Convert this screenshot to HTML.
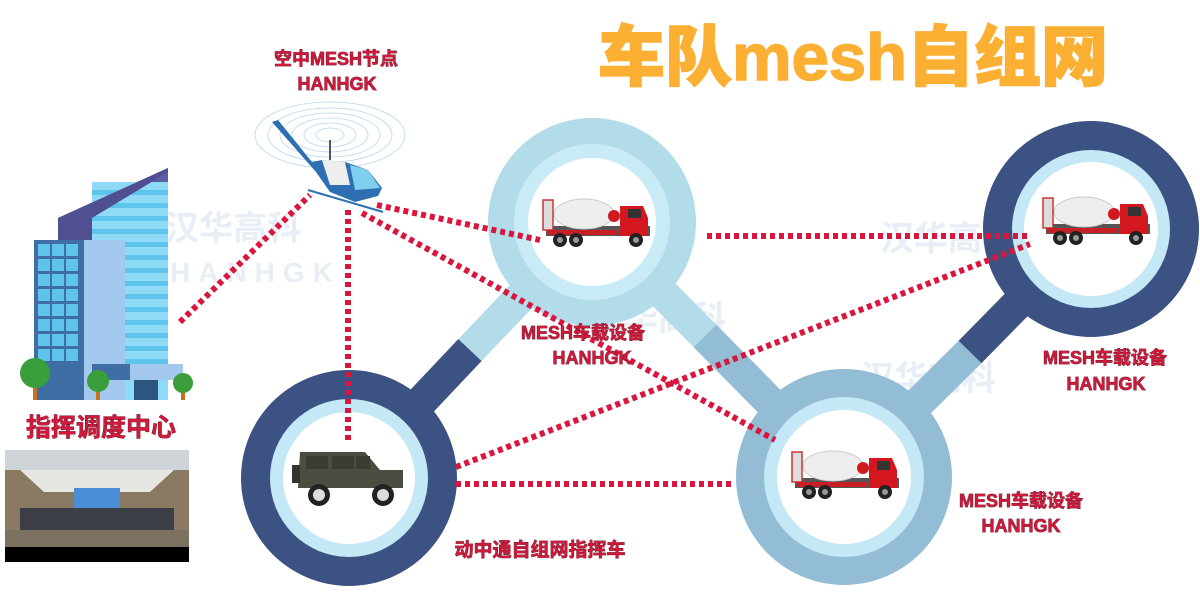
<!DOCTYPE html>
<html><head><meta charset="utf-8"><style>
html,body{margin:0;padding:0;background:#fff;width:1200px;height:600px;overflow:hidden}
svg{display:block}
.lb{font-family:"Liberation Sans","Noto Sans CJK SC",sans-serif;font-weight:bold;fill:#d01a3c;paint-order:stroke;stroke:#5a1020;stroke-width:0.7px}
.wm{font-family:"Liberation Sans","Noto Sans CJK SC",sans-serif;font-weight:bold;fill:#e8eef5}
</style></head><body>
<svg width="1200" height="600" viewBox="0 0 1200 600" xmlns="http://www.w3.org/2000/svg">
<defs>
<g id="truck">
  <rect x="-52" y="-2" width="104" height="10" fill="#555"/>
  <ellipse cx="-14" cy="-14" rx="30" ry="15" fill="#eeeeee" stroke="#ccc"/>
  <rect x="-55" y="-28" width="10" height="30" fill="#ddd" stroke="#c33" stroke-width="1.5"/>
  <circle cx="16" cy="-12" r="6" fill="#d01a20"/>
  <rect x="-50" y="2" width="70" height="5" fill="#c81e25"/>
  <path d="M22,-22 H45 L50,-10 V8 H22 Z" fill="#d4161e"/>
  <rect x="30" y="-19" width="13" height="9" fill="#333"/>
  <circle cx="-38" cy="12" r="7" fill="#222"/><circle cx="-38" cy="12" r="3" fill="#999"/>
  <circle cx="-22" cy="12" r="7" fill="#222"/><circle cx="-22" cy="12" r="3" fill="#999"/>
  <circle cx="38" cy="12" r="7" fill="#222"/><circle cx="38" cy="12" r="3" fill="#999"/>
</g>
</defs>

<g class="wm">
<text x="165" y="240" font-size="34">汉华高科</text>
<text x="170" y="282" font-size="28" letter-spacing="8">HANHGK</text>
<text x="590" y="330" font-size="34">汉华高科</text>
<text x="880" y="250" font-size="34">汉华高科</text>
<text x="860" y="390" font-size="34">汉华高科</text>
<text x="300" y="510" font-size="34">汉华高科</text>
<text x="280" y="527" font-size="28" letter-spacing="8">HANHGK</text>
</g>

<line x1="349" y1="478" x2="470" y2="350" stroke="#3c5282" stroke-width="32"/>
<line x1="470" y1="350" x2="592" y2="222" stroke="#b3dcea" stroke-width="32"/>
<line x1="592" y1="222" x2="705" y2="336" stroke="#b3dcea" stroke-width="32"/>
<line x1="705" y1="336" x2="844" y2="477" stroke="#93bdd4" stroke-width="32"/>
<line x1="844" y1="477" x2="970" y2="352" stroke="#93bdd4" stroke-width="32"/>
<line x1="970" y1="352" x2="1091" y2="229" stroke="#3c5282" stroke-width="32"/>

<circle cx="349" cy="478" r="108" fill="#3c5282"/><circle cx="349" cy="478" r="79" fill="#c4e8f5"/><circle cx="349" cy="478" r="66" fill="#fff"/>
<circle cx="592" cy="222" r="104" fill="#b3dcea"/><circle cx="592" cy="222" r="78" fill="#c9ebf6"/><circle cx="592" cy="222" r="64" fill="#fff"/>
<circle cx="1091" cy="229" r="108" fill="#3c5282"/><circle cx="1091" cy="229" r="79" fill="#c4e8f5"/><circle cx="1091" cy="229" r="67" fill="#fff"/>
<circle cx="844" cy="477" r="108" fill="#93bdd4"/><circle cx="844" cy="477" r="80" fill="#c4e8f5"/><circle cx="844" cy="477" r="67" fill="#fff"/>

<g stroke="#d9173e" stroke-width="6" stroke-dasharray="5,4" fill="none">
<line x1="180" y1="322" x2="310" y2="195"/>
<line x1="348" y1="210" x2="348" y2="442"/>
<line x1="377" y1="205" x2="540" y2="240"/>
<line x1="362" y1="213" x2="775" y2="440"/>
<line x1="707" y1="236" x2="1030" y2="236"/>
<line x1="456" y1="467" x2="1030" y2="244"/>
<line x1="456" y1="484" x2="735" y2="484"/>
</g>

<use href="#truck" transform="translate(598,228)"/>
<use href="#truck" transform="translate(1098,226)"/>
<use href="#truck" transform="translate(847,480)"/>

<g>
<path d="M300,452 H365 L380,470 H403 V488 H298 Z" fill="#4a4d42"/>
<rect x="306" y="456" width="22" height="13" fill="#3a3c34"/><rect x="332" y="456" width="22" height="13" fill="#3a3c34"/><rect x="356" y="456" width="14" height="13" fill="#3a3c34"/>
<rect x="292" y="465" width="8" height="18" fill="#333"/>
<circle cx="319" cy="495" r="11" fill="#222"/><circle cx="319" cy="495" r="6" fill="#ddd"/>
<circle cx="383" cy="495" r="11" fill="#222"/><circle cx="383" cy="495" r="6" fill="#ddd"/>
</g>

<g fill="none" stroke="#b8d6ea" stroke-width="0.8">
<ellipse cx="330" cy="135" rx="75" ry="33"/><ellipse cx="330" cy="135" rx="62" ry="27"/><ellipse cx="330" cy="135" rx="50" ry="22"/><ellipse cx="330" cy="135" rx="38" ry="17"/><ellipse cx="330" cy="135" rx="26" ry="12"/><ellipse cx="330" cy="135" rx="14" ry="7"/>
</g>
<path d="M272,122 L278,120 L312,162 L322,160 L345,162 L368,170 L382,188 L378,196 L355,202 L330,192 L316,172 Z" fill="#2d6fb0"/>
<path d="M322,160 L345,162 L350,185 L330,185 Z" fill="#eee"/>
<path d="M350,165 L368,170 L380,188 L355,190 Z" fill="#7fd0f0"/>
<line x1="308" y1="190" x2="383" y2="212" stroke="#2d6fb0" stroke-width="2"/>
<line x1="330" y1="140" x2="330" y2="160" stroke="#555" stroke-width="2"/>

<polygon points="58,218 168,168 168,240 58,240" fill="#5a5ea8"/>
<rect x="92" y="182" width="76" height="218" fill="#8fdaf7"/>
<g fill="#5fc4ec">
<rect x="92" y="190" width="76" height="5"/><rect x="92" y="203" width="76" height="5"/><rect x="92" y="216" width="76" height="5"/><rect x="92" y="229" width="76" height="5"/><rect x="92" y="242" width="76" height="5"/><rect x="92" y="255" width="76" height="5"/><rect x="92" y="268" width="76" height="5"/><rect x="92" y="281" width="76" height="5"/><rect x="92" y="294" width="76" height="5"/><rect x="92" y="307" width="76" height="5"/><rect x="92" y="320" width="76" height="5"/><rect x="92" y="333" width="76" height="5"/><rect x="92" y="346" width="76" height="5"/><rect x="92" y="359" width="76" height="5"/>
</g>
<polygon points="58,218 168,168 168,172 92,218 92,240 58,240" fill="#4f4f92"/>
<rect x="84" y="240" width="41" height="160" fill="#a3c8ee"/>
<rect x="34" y="240" width="50" height="160" fill="#3f6ea5"/>
<g fill="#5fc4ec">
<rect x="38" y="244" width="12" height="12"/><rect x="52" y="244" width="12" height="12"/><rect x="66" y="244" width="12" height="12"/>
<rect x="38" y="259" width="12" height="12"/><rect x="52" y="259" width="12" height="12"/><rect x="66" y="259" width="12" height="12"/>
<rect x="38" y="274" width="12" height="12"/><rect x="52" y="274" width="12" height="12"/><rect x="66" y="274" width="12" height="12"/>
<rect x="38" y="289" width="12" height="12"/><rect x="52" y="289" width="12" height="12"/><rect x="66" y="289" width="12" height="12"/>
<rect x="38" y="304" width="12" height="12"/><rect x="52" y="304" width="12" height="12"/><rect x="66" y="304" width="12" height="12"/>
<rect x="38" y="319" width="12" height="12"/><rect x="52" y="319" width="12" height="12"/><rect x="66" y="319" width="12" height="12"/>
<rect x="38" y="334" width="12" height="12"/><rect x="52" y="334" width="12" height="12"/><rect x="66" y="334" width="12" height="12"/>
<rect x="38" y="349" width="12" height="12"/><rect x="52" y="349" width="12" height="12"/><rect x="66" y="349" width="12" height="12"/>
</g>
<rect x="92" y="364" width="38" height="16" fill="#3f6ea5"/><rect x="130" y="364" width="53" height="16" fill="#a3c8ee"/>
<rect x="134" y="380" width="24" height="20" fill="#2c5580"/>
<rect x="33" y="380" width="4" height="20" fill="#c9701f"/><circle cx="35" cy="373" r="15" fill="#3a9e3a"/>
<rect x="96" y="385" width="4" height="15" fill="#c9701f"/><circle cx="98" cy="381" r="11" fill="#3a9e3a"/>
<rect x="181" y="387" width="4" height="13" fill="#c9701f"/><circle cx="183" cy="383" r="10" fill="#3a9e3a"/>

<rect x="5" y="450" width="184" height="97" fill="#8a7a62"/>
<rect x="5" y="450" width="184" height="20" fill="#cfd4d8"/>
<polygon points="20,470 174,470 150,492 44,492" fill="#e6e6e2"/>
<rect x="74" y="488" width="46" height="22" fill="#4a8ed8"/>
<rect x="20" y="508" width="154" height="22" fill="#3b3e44"/>
<rect x="5" y="530" width="184" height="17" fill="#7c7262"/>
<rect x="5" y="547" width="184" height="15" fill="#000"/>

<text x="598" y="80" font-family="'Liberation Sans','Noto Sans CJK SC',sans-serif" font-weight="900" font-size="66" fill="#fbb034" stroke="#fbb034" stroke-width="1.5" textLength="510" lengthAdjust="spacingAndGlyphs">车队mesh自组网</text>

<g class="lb" text-anchor="middle">
<text x="336" y="65" font-size="18">空中MESH节点</text>
<text x="337" y="90" font-size="18">HANHGK</text>
<text x="101" y="436" font-size="25">指挥调度中心</text>
<text x="583" y="339" font-size="18">MESH车载设备</text>
<text x="592" y="364" font-size="18">HANHGK</text>
<text x="1105" y="364" font-size="18">MESH车载设备</text>
<text x="1106" y="390" font-size="18">HANHGK</text>
<text x="1021" y="507" font-size="18">MESH车载设备</text>
<text x="1021" y="532" font-size="18">HANHGK</text>
<text x="540" y="556" font-size="19">动中通自组网指挥车</text>
</g>
</svg>
</body></html>
